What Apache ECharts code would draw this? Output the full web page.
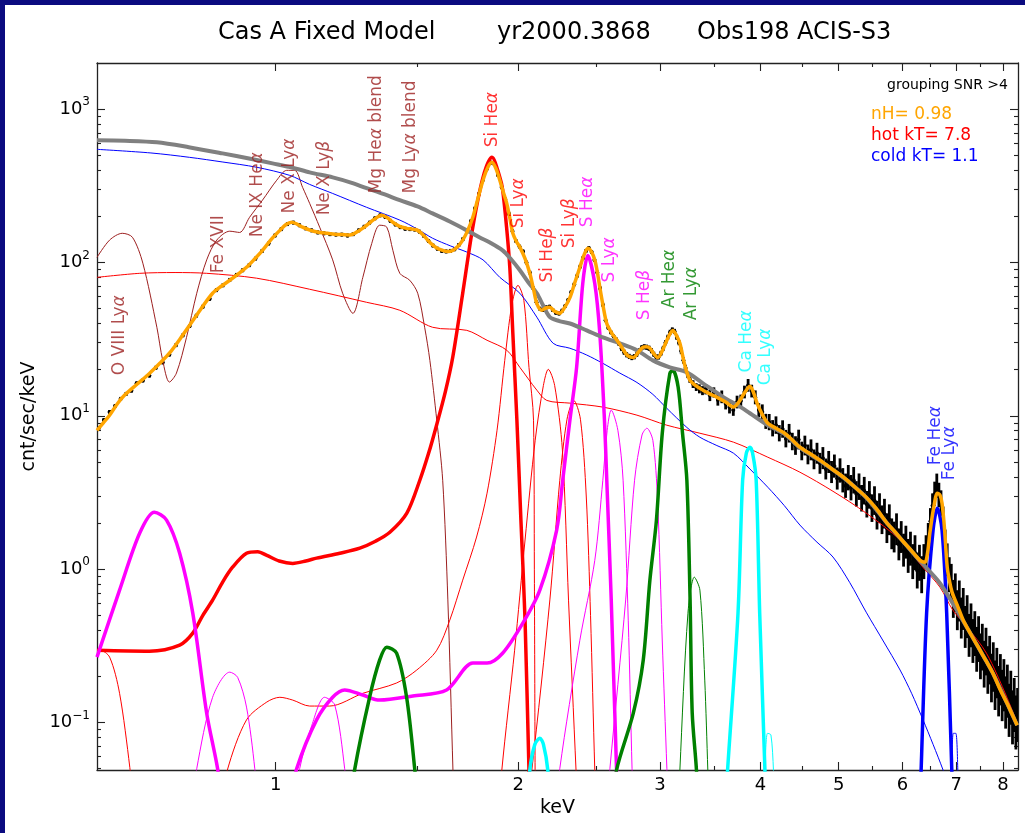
<!DOCTYPE html>
<html>
<head>
<meta charset="utf-8">
<title>Cas A Fixed Model</title>
<script src="https://cdn.jsdelivr.net/npm/echarts@6/dist/echarts.min.js"></script>
<style>
html, body { margin: 0; padding: 0; background: #fff; }
#chart { width: 1025px; height: 833px; }
</style>
</head>
<body>
<div id="chart"></div>
<script>
var FONT = 'DejaVu Sans';

// axis ranges and ticks (keV, cnt/sec/keV)
var xMin = 0.6, xMax = 8.35, yMin = 0.049, yMax = 2000;
var xTicks = [1, 2, 3, 4, 5, 6, 7, 8];
var xMinorTicks = [1.5, 2.5, 3.5, 4.5, 5.5, 6.5, 7.5];
var yTicks = [0.1, 1, 10, 100, 1000];
var yMinorTicks = [0.05, 0.06, 0.07, 0.08, 0.09, 0.2, 0.3, 0.4, 0.5, 0.6, 0.7, 0.8, 0.9,
    2, 3, 4, 5, 6, 7, 8, 9, 20, 30, 40, 50, 60, 70, 80, 90,
    200, 300, 400, 500, 600, 700, 800, 900];

// observed spectrum [keV, cnt/sec/keV, fractional error]
var obsLow = [
    [0.603, 8.3, 0.03], [0.612, 9.4, 0.03], [0.622, 10.6, 0.03], [0.632, 11.6, 0.03], [0.642, 12.9, 0.03],
    [0.652, 13.9, 0.03], [0.662, 14.6, 0.03], [0.672, 16.3, 0.03], [0.684, 17.0, 0.03], [0.697, 18.3, 0.03],
    [0.71, 20.6, 0.03], [0.724, 22.3, 0.03], [0.738, 25.1, 0.03], [0.752, 28.9, 0.03], [0.767, 33.5, 0.03],
    [0.782, 38.5, 0.03], [0.797, 45, 0.03], [0.812, 51.5, 0.03], [0.828, 58, 0.03], [0.844, 66, 0.03],
    [0.86, 71, 0.03], [0.877, 77, 0.03], [0.894, 83, 0.03], [0.91, 89, 0.03], [0.927, 96, 0.03],
    [0.944, 106, 0.03], [0.962, 119, 0.03], [0.98, 133, 0.03], [0.998, 150, 0.03], [1.016, 165, 0.03],
    [1.034, 178, 0.03], [1.052, 182, 0.03], [1.07, 175, 0.03], [1.089, 167, 0.03], [1.108, 162, 0.03],
    [1.128, 157, 0.03], [1.148, 155, 0.03], [1.168, 153, 0.03], [1.188, 152, 0.03], [1.208, 152, 0.03],
    [1.228, 150, 0.03], [1.248, 153, 0.03], [1.268, 162, 0.03], [1.288, 171, 0.03], [1.308, 182, 0.03],
    [1.328, 194, 0.03], [1.348, 203, 0.03], [1.368, 198, 0.03], [1.388, 187, 0.03], [1.408, 177, 0.03],
    [1.428, 170, 0.03], [1.448, 166, 0.03], [1.468, 165, 0.03], [1.488, 164, 0.03], [1.508, 159, 0.03],
    [1.528, 149, 0.03], [1.548, 138, 0.03], [1.568, 129, 0.03], [1.588, 123, 0.03], [1.608, 119, 0.03],
    [1.628, 118, 0.03], [1.648, 119, 0.03], [1.668, 122, 0.03], [1.688, 130, 0.03], [1.708, 142, 0.03],
    [1.728, 160, 0.03], [1.748, 186, 0.03], [1.768, 225, 0.03], [1.788, 280, 0.03], [1.808, 345, 0.03],
    [1.828, 405, 0.03], [1.848, 448, 0.03], [1.868, 440, 0.03], [1.888, 372, 0.03], [1.908, 310, 0.03],
    [1.928, 258, 0.03], [1.948, 208, 0.03], [1.968, 160, 0.03], [1.988, 138, 0.03], [2.008, 127, 0.03],
    [2.028, 118, 0.03], [2.048, 100, 0.03], [2.068, 86, 0.03], [2.088, 68, 0.03], [2.108, 55, 0.03],
    [2.128, 50, 0.03], [2.148, 49, 0.03], [2.168, 51, 0.03], [2.188, 51.5, 0.03], [2.208, 49, 0.03],
    [2.228, 47, 0.03], [2.248, 46.5, 0.03], [2.268, 48.5, 0.03], [2.288, 52, 0.03], [2.308, 57, 0.03],
    [2.328, 64, 0.03], [2.348, 72, 0.03], [2.368, 82, 0.03], [2.388, 94, 0.03], [2.408, 107, 0.03],
    [2.428, 119, 0.03], [2.448, 124, 0.03], [2.468, 117, 0.03], [2.488, 104, 0.03], [2.508, 86, 0.03],
    [2.528, 68, 0.03], [2.548, 53, 0.03], [2.568, 42, 0.03], [2.588, 37.5, 0.03], [2.608, 35, 0.03],
    [2.628, 33, 0.03], [2.648, 31.5, 0.03], [2.668, 29.5, 0.03], [2.688, 27.5, 0.04], [2.708, 26, 0.04],
    [2.728, 25, 0.04], [2.748, 24.4, 0.04], [2.768, 24, 0.04], [2.788, 24.3, 0.04], [2.808, 25.2, 0.04],
    [2.828, 26.5, 0.04], [2.848, 27.8, 0.04], [2.868, 28.2, 0.04], [2.888, 28, 0.04], [2.908, 27.6, 0.04],
    [2.928, 26.6, 0.04], [2.948, 25.2, 0.04], [2.968, 24.2, 0.04], [2.988, 24.2, 0.04], [3.008, 25.5, 0.04],
    [3.028, 27.5, 0.04], [3.048, 30, 0.04], [3.068, 32.5, 0.04], [3.088, 35, 0.04], [3.108, 36.3, 0.04],
    [3.128, 35.5, 0.04], [3.148, 32.5, 0.04], [3.168, 30, 0.04], [3.188, 26.5, 0.05], [3.208, 23, 0.05],
    [3.228, 20.5, 0.05], [3.248, 18.5, 0.05], [3.268, 17.2, 0.05], [3.298, 16.1, 0.06], [3.328, 15.4, 0.06],
    [3.358, 15, 0.07], [3.388, 14.6, 0.07]
];
var obsHigh = [
    [3.42, 14.9, 0.08], [3.46, 13.6, 0.09], [3.50, 14.2, 0.08], [3.54, 12.7, 0.09], [3.58, 13.3, 0.1],
    [3.62, 12.0, 0.09], [3.66, 11.4, 0.1], [3.70, 10.9, 0.09], [3.74, 12.3, 0.1], [3.78, 12.5, 0.1],
    [3.82, 14.3, 0.1], [3.86, 15.8, 0.1], [3.90, 14.5, 0.1], [3.94, 13.2, 0.11], [3.98, 10.9, 0.11],
    [4.02, 10.6, 0.12], [4.06, 9.2, 0.12], [4.10, 9.1, 0.13], [4.14, 8.3, 0.13], [4.18, 8.7, 0.14],
    [4.22, 7.7, 0.13], [4.26, 8.2, 0.14], [4.30, 7.1, 0.14], [4.34, 7.7, 0.15], [4.38, 6.8, 0.14],
    [4.42, 6.4, 0.15], [4.46, 7.0, 0.16], [4.50, 5.9, 0.15], [4.54, 6.4, 0.16], [4.58, 5.6, 0.16],
    [4.62, 6.0, 0.17], [4.66, 5.2, 0.16], [4.70, 5.7, 0.17], [4.74, 4.9, 0.17], [4.78, 5.3, 0.18],
    [4.82, 4.5, 0.17], [4.86, 5.0, 0.18], [4.90, 4.3, 0.18], [4.94, 4.7, 0.19], [4.98, 3.9, 0.18],
    [5.02, 4.4, 0.2], [5.06, 3.8, 0.2], [5.10, 3.5, 0.2], [5.14, 3.95, 0.21], [5.18, 3.4, 0.21],
    [5.22, 3.8, 0.22], [5.26, 3.1, 0.21], [5.30, 3.45, 0.22], [5.34, 2.9, 0.22], [5.38, 3.25, 0.23],
    [5.42, 2.65, 0.22], [5.46, 3.05, 0.23], [5.50, 2.5, 0.23], [5.54, 2.8, 0.24], [5.58, 2.25, 0.24],
    [5.62, 2.5, 0.25], [5.66, 2.1, 0.24], [5.70, 2.3, 0.25], [5.74, 1.85, 0.25], [5.78, 2.1, 0.26],
    [5.82, 1.7, 0.26], [5.86, 1.62, 0.26], [5.90, 1.82, 0.27], [5.94, 1.45, 0.27], [5.98, 1.62, 0.27],
    [6.02, 1.33, 0.28], [6.06, 1.5, 0.28], [6.10, 1.22, 0.29], [6.14, 1.36, 0.29], [6.18, 1.12, 0.3],
    [6.22, 1.28, 0.3], [6.26, 0.98, 0.31], [6.30, 1.1, 0.31], [6.34, 0.92, 0.32], [6.38, 1.12, 0.3],
    [6.42, 1.3, 0.28], [6.46, 1.6, 0.25], [6.50, 2.05, 0.22], [6.54, 2.6, 0.2], [6.58, 3.1, 0.2],
    [6.62, 3.5, 0.2], [6.66, 3.05, 0.2], [6.70, 2.7, 0.21], [6.74, 2.1, 0.22], [6.78, 1.45, 0.25],
    [6.82, 1.15, 0.28], [6.86, 0.92, 0.3], [6.90, 0.82, 0.32], [6.94, 0.64, 0.33], [6.98, 0.7, 0.34],
    [7.02, 0.54, 0.35], [7.06, 0.62, 0.36], [7.10, 0.48, 0.36], [7.14, 0.55, 0.37], [7.18, 0.42, 0.37],
    [7.22, 0.49, 0.38], [7.26, 0.37, 0.38], [7.30, 0.43, 0.39], [7.34, 0.34, 0.39], [7.38, 0.38, 0.4],
    [7.42, 0.3, 0.4], [7.46, 0.35, 0.41], [7.50, 0.27, 0.41], [7.54, 0.31, 0.42], [7.58, 0.24, 0.42],
    [7.62, 0.29, 0.43], [7.66, 0.22, 0.43], [7.70, 0.255, 0.44], [7.74, 0.195, 0.44], [7.78, 0.23, 0.45],
    [7.82, 0.175, 0.45], [7.86, 0.21, 0.46], [7.90, 0.16, 0.46], [7.94, 0.19, 0.47], [7.98, 0.15, 0.47],
    [8.02, 0.175, 0.48], [8.06, 0.135, 0.48], [8.10, 0.16, 0.49], [8.14, 0.12, 0.49], [8.18, 0.145, 0.5],
    [8.22, 0.108, 0.5], [8.26, 0.13, 0.5], [8.30, 0.1, 0.5], [8.34, 0.112, 0.5]
];

// total fitted model (orange)
var totalModel = [
    [0.600, 8.05], [0.611, 9.0], [0.622, 10.1], [0.636, 12.0], [0.649, 13.6], [0.672, 16.0], [0.697, 18.9],
    [0.718, 22.0], [0.738, 25.6], [0.760, 31.5], [0.782, 39], [0.808, 50], [0.835, 63], [0.856, 70],
    [0.877, 76.6], [0.898, 84], [0.920, 93], [0.941, 105], [0.963, 120], [0.988, 142], [1.012, 162],
    [1.030, 177], [1.047, 183], [1.063, 178], [1.080, 170], [1.105, 162], [1.134, 157], [1.160, 155],
    [1.184, 153], [1.210, 152], [1.236, 151], [1.266, 160], [1.297, 175], [1.325, 191], [1.354, 203],
    [1.376, 196], [1.398, 183], [1.425, 172], [1.454, 167], [1.478, 165], [1.501, 162], [1.527, 150],
    [1.554, 135], [1.583, 125], [1.612, 120], [1.636, 118], [1.659, 120], [1.683, 127], [1.707, 140],
    [1.732, 162], [1.757, 197], [1.783, 262], [1.809, 344], [1.833, 415], [1.856, 450], [1.877, 410],
    [1.898, 344], [1.916, 290], [1.936, 243], [1.953, 195], [1.970, 155], [1.99, 137], [2.010, 126],
    [2.04, 106], [2.068, 85], [2.09, 67], [2.110, 54], [2.140, 48.8], [2.165, 50.5], [2.190, 51],
    [2.22, 48], [2.253, 46.6], [2.285, 51], [2.319, 59], [2.352, 74], [2.386, 93], [2.415, 112],
    [2.441, 124], [2.465, 118], [2.490, 104], [2.508, 87], [2.526, 69], [2.55, 52], [2.577, 40],
    [2.615, 34.5], [2.655, 31], [2.695, 27.5], [2.733, 24.8], [2.78, 24], [2.82, 26], [2.858, 28],
    [2.885, 28.2], [2.915, 27.6], [2.95, 25.3], [2.982, 24], [3.02, 26.5], [3.059, 31], [3.09, 34.5],
    [3.113, 36], [3.14, 34], [3.176, 29.7], [3.22, 21.5], [3.268, 17.1], [3.33, 15.6], [3.392, 14.7],
    [3.46, 13.9], [3.532, 13.2], [3.62, 12.3], [3.703, 11.4], [3.74, 11.9], [3.77, 12.6], [3.83, 14.4],
    [3.88, 15.6], [3.92, 14.2], [3.96, 12.1], [4.02, 10.2], [4.084, 8.95], [4.18, 8.3], [4.285, 7.7],
    [4.38, 6.95], [4.476, 6.24], [4.6, 5.7], [4.739, 5.14], [4.9, 4.52], [5.07, 3.98], [5.24, 3.42],
    [5.41, 2.95], [5.57, 2.48], [5.74, 2.0], [5.87, 1.76], [5.99, 1.55], [6.15, 1.33], [6.31, 1.14],
    [6.40, 1.11], [6.45, 1.3], [6.49, 1.72], [6.56, 2.5], [6.63, 3.13], [6.68, 3.05], [6.72, 2.69],
    [6.77, 1.8], [6.82, 1.03], [6.87, 0.82], [6.92, 0.70], [7.03, 0.57], [7.14, 0.465], [7.3, 0.375],
    [7.49, 0.296], [7.63, 0.25], [7.77, 0.21], [7.93, 0.165], [8.09, 0.134], [8.2, 0.115], [8.33, 0.096]
];

// model continuum without lines (grey)
var continuumModel = [
    [0.600, 626], [0.65, 622], [0.712, 608], [0.78, 565], [0.859, 515], [0.93, 475], [0.991, 443],
    [1.05, 415], [1.102, 387], [1.177, 359], [1.24, 332], [1.297, 305], [1.36, 280], [1.426, 255],
    [1.50, 232], [1.566, 209], [1.645, 185], [1.727, 162], [1.79, 146], [1.845, 135], [1.913, 120],
    [1.96, 105], [2.010, 89], [2.06, 74], [2.110, 63], [2.15, 52], [2.19, 44], [2.25, 41.5], [2.319, 40],
    [2.433, 36.1], [2.548, 32.5], [2.675, 29.7], [2.809, 26.8], [2.94, 23], [3.086, 20.7], [3.24, 19.2],
    [3.392, 16.3], [3.6, 13.2], [3.75, 11.7], [3.88, 10.4], [4.084, 8.69], [4.285, 7.6], [4.476, 6.2],
    [4.739, 5.1], [5.07, 3.95], [5.41, 2.93], [5.74, 2.0], [5.99, 1.55], [6.31, 1.13], [6.68, 0.81],
    [7.07, 0.5], [7.49, 0.296], [7.77, 0.21], [8.09, 0.134], [8.33, 0.096]
];

// cold (kT 1.1) component
var coldModel = [
    [0.600, 547], [0.70, 518], [0.782, 485], [0.86, 452], [0.947, 418], [1.041, 370], [1.102, 323],
    [1.177, 282], [1.297, 229], [1.426, 189], [1.50, 165], [1.566, 144], [1.65, 128], [1.727, 117],
    [1.809, 104], [1.898, 80], [2.010, 63], [2.110, 44], [2.211, 29.7], [2.319, 27.6], [2.43, 25],
    [2.548, 22], [2.675, 19], [2.809, 16.5], [2.94, 13.8], [3.059, 11.2], [3.24, 8.4], [3.363, 7.25],
    [3.53, 6.4], [3.703, 5.7], [3.88, 4.5], [4.084, 3.42], [4.28, 2.6], [4.476, 1.94], [4.7, 1.5],
    [4.92, 1.2], [5.16, 0.82], [5.41, 0.524], [5.68, 0.34], [5.96, 0.22], [6.16, 0.155], [6.36, 0.105],
    [6.55, 0.072], [6.74, 0.049], [6.97, 0.03]
];

// hot (kT 7.8) continuum
var hotModel = [
    [0.600, 80], [0.678, 85], [0.75, 86], [0.821, 85], [0.947, 79], [1.102, 66.9], [1.297, 55],
    [1.426, 48.8], [1.566, 37.8], [1.727, 36.1], [1.83, 31.1], [1.936, 26.8], [2.010, 20.7], [2.110, 14.7],
    [2.171, 12.6], [2.319, 12.1], [2.548, 11.4], [2.809, 10.1], [3.059, 8.69], [3.363, 7.7], [3.703, 6.73],
    [4.084, 5.37], [4.476, 4.29], [4.92, 3.22], [5.41, 2.32], [5.96, 1.55], [6.36, 1.03], [6.68, 0.763],
    [6.93, 0.541], [7.22, 0.419], [7.63, 0.283], [8.09, 0.146], [8.33, 0.099]
];

// O / Fe L / Ne / Mg blend
var softLines = [
    [0.600, 108], [0.622, 140], [0.645, 155], [0.664, 146], [0.684, 99], [0.712, 37.8], [0.724, 23],
    [0.738, 16.6], [0.753, 19], [0.775, 32.5], [0.798, 63], [0.821, 104], [0.845, 140], [0.877, 160],
    [0.902, 157], [0.928, 197], [0.963, 255], [1.003, 344], [1.032, 399], [1.056, 399], [1.080, 309],
    [1.102, 243], [1.134, 170], [1.177, 104], [1.211, 63], [1.247, 46.6], [1.283, 80], [1.316, 133],
    [1.346, 175], [1.374, 170], [1.398, 120], [1.426, 85], [1.467, 76.6], [1.501, 63], [1.531, 37.8],
    [1.554, 23], [1.585, 9.36], [1.612, 3.8], [1.636, 0.63], [1.66, 0.049], [1.665, 0.03]
];

// silicon
var siHea = [
    [0.600, 0.296], [0.697, 0.292], [0.760, 0.320], [0.789, 0.383], [0.812, 0.5], [0.835, 0.628],
    [0.86, 0.83], [0.884, 1.03], [0.920, 1.27], [0.95, 1.3], [0.975, 1.23], [1.01, 1.13], [1.050, 1.09],
    [1.09, 1.13], [1.124, 1.18], [1.201, 1.27], [1.272, 1.37], [1.33, 1.52], [1.386, 1.74], [1.455, 2.32],
    [1.51, 3.8], [1.55, 5.8], [1.584, 8.69], [1.625, 14.5], [1.659, 24.1], [1.707, 63], [1.757, 170],
    [1.809, 359], [1.856, 485], [1.898, 360], [1.913, 300], [1.935, 170], [1.953, 93], [1.970, 34.5],
    [1.993, 9.36], [2.016, 2.09], [2.04, 0.465], [2.063, 0.049], [2.07, 0.03]
];
var siHeaWing = [[0.600, 0.296], [0.605, 0.296], [0.622, 0.267], [0.64, 0.155], [0.659, 0.051], [0.665, 0.03]];
var siLya = [
    [0.86, 0.03], [0.871, 0.049], [0.920, 0.104], [0.975, 0.136], [1.012, 0.146], [1.050, 0.140],
    [1.102, 0.128], [1.167, 0.128], [1.283, 0.155], [1.413, 0.181], [1.497, 0.220], [1.585, 0.296],
    [1.645, 0.465], [1.707, 0.848], [1.776, 1.62], [1.830, 3.13], [1.883, 8.05], [1.925, 23],
    [1.964, 52.6], [1.999, 71], [2.033, 56.7], [2.063, 20.7], [2.09, 9.36], [2.095, 1.0], [2.10, 0.03]
];
var siHeb = [
    [1.9, 0.03], [1.909, 0.049], [1.98, 0.296], [2.04, 1.55], [2.10, 6.93], [2.15, 15.8], [2.18, 20.1],
    [2.22, 15.8], [2.27, 5.97], [2.31, 0.628], [2.36, 0.049], [2.37, 0.03]
];
var siLyb = [
    [2.05, 0.03], [2.08, 0.049], [2.19, 0.63], [2.253, 3.8], [2.30, 9.5], [2.345, 12.6], [2.39, 9.5],
    [2.43, 3.0], [2.46, 0.5], [2.49, 0.049], [2.50, 0.03]
];

// sulphur
var sHeaLow = [
    [0.600, 0.267], [0.640, 0.730], [0.678, 1.72], [0.707, 2.35], [0.732, 2.09], [0.760, 1.27],
    [0.789, 0.517], [0.821, 0.115], [0.847, 0.05], [0.852, 0.036]
];
var sHea = [
    [1.053, 0.036], [1.062, 0.05], [1.124, 0.104], [1.177, 0.146], [1.218, 0.163], [1.283, 0.151],
    [1.346, 0.140], [1.480, 0.149], [1.630, 0.163], [1.757, 0.244], [1.830, 0.244], [1.913, 0.283],
    [2.027, 0.445], [2.128, 0.730], [2.233, 1.80], [2.272, 3.80], [2.319, 9.36], [2.364, 20.7],
    [2.406, 73], [2.441, 111], [2.490, 73], [2.526, 34.5], [2.56, 9.36], [2.577, 3.8], [2.61, 0.63],
    [2.65, 0.049], [2.66, 0.03]
];
var sLowA = [[0.79, 0.03], [0.798, 0.05], [0.835, 0.146], [0.877, 0.213], [0.897, 0.197], [0.920, 0.126], [0.942, 0.05], [0.947, 0.03]];
var sLowB = [[1.06, 0.03], [1.071, 0.05], [1.109, 0.096], [1.15, 0.146], [1.184, 0.13], [1.218, 0.05], [1.225, 0.03]];
var sLya = [
    [2.24, 0.03], [2.253, 0.05], [2.386, 0.344], [2.49, 1.14], [2.548, 3.8], [2.58, 8.05], [2.61, 10.9],
    [2.66, 8.05], [2.70, 3.8], [2.74, 0.465], [2.77, 0.05], [2.78, 0.03]
];
var sHeb = [
    [2.58, 0.03], [2.60, 0.05], [2.72, 0.63], [2.79, 3.8], [2.85, 7.5], [2.89, 8.3], [2.94, 6.9],
    [2.98, 2.8], [3.02, 0.34], [3.06, 0.05], [3.07, 0.03]
];

// argon
var arHeaLow = [[1.24, 0.03], [1.254, 0.05], [1.308, 0.146], [1.346, 0.255], [1.374, 0.310], [1.413, 0.283], [1.454, 0.146], [1.488, 0.05], [1.50, 0.03]];
var arHea = [
    [2.63, 0.03], [2.65, 0.049], [2.78, 0.115], [2.86, 0.255], [2.915, 0.848], [2.97, 2.09], [3.02, 7.7],
    [3.086, 18.9], [3.113, 19.8], [3.16, 15.4], [3.20, 7.7], [3.24, 3.8], [3.27, 0.628], [3.29, 0.115],
    [3.33, 0.049], [3.34, 0.03]
];
var arLya = [[3.17, 0.03], [3.176, 0.049], [3.25, 0.516], [3.31, 0.887], [3.363, 0.73], [3.41, 0.189], [3.44, 0.049], [3.45, 0.03]];

// calcium
var caHeaLow = [[2.06, 0.03], [2.068, 0.049], [2.098, 0.072], [2.128, 0.079], [2.15, 0.072], [2.177, 0.049], [2.185, 0.03]];
var caHea = [
    [3.62, 0.03], [3.64, 0.049], [3.75, 0.516], [3.80, 3.8], [3.84, 5.70], [3.88, 6.24], [3.91, 5.70],
    [3.95, 3.8], [3.99, 0.516], [4.05, 0.049], [4.06, 0.03]
];
var caLya = [[4.04, 0.03], [4.05, 0.049], [4.08, 0.085], [4.12, 0.083], [4.15, 0.049], [4.16, 0.03]];

// iron K
var feHea = [[6.31, 0.03], [6.33, 0.049], [6.43, 0.516], [6.55, 1.80], [6.63, 2.50], [6.72, 1.80], [6.81, 0.516], [6.91, 0.049], [6.93, 0.03]];
var feLya = [[6.90, 0.03], [6.91, 0.049], [6.94, 0.085], [6.99, 0.085], [7.03, 0.049], [7.04, 0.03]];

// line identifications [text, keV, cnt/sec/keV at the foot of the label]
var softLabels = [
    ['O VIII Ly{g|α}', 0.640, 18.4], ['Fe XVII', 0.850, 85], ['Ne IX He{g|α}', 0.950, 146],
    ['Ne X Ly{g|α}', 1.041, 209], ['Ne X Ly{g|β}', 1.150, 203],
    ['Mg He{g|α} blend', 1.335, 282], ['Mg Ly{g|α} blend', 1.472, 282]
];
var siLabels = [['Si He{g|α}', 1.861, 564], ['Si Ly{g|α}', 2.0, 167], ['Si He{g|β}', 2.177, 74], ['Si Ly{g|β}', 2.319, 124]];
var sLabels = [['S He{g|α}', 2.441, 170], ['S Ly{g|α}', 2.599, 74], ['S He{g|β}', 2.873, 42]];
var arLabels = [['Ar He{g|α}', 3.086, 50.3], ['Ar Ly{g|α}', 3.287, 42]];
var caLabels = [['Ca He{g|α}', 3.847, 19.2], ['Ca Ly{g|α}', 4.062, 15.8]];
var feLabels = [['Fe He{g|α}', 6.59, 4.76], ['Fe Ly{g|α}', 6.874, 3.8]];

var AXIS_COLOR = '#222';
var BROWN = '#9C1F1F';

function curve(data, color, width) {
    return {
        type: 'line',
        data: data,
        showSymbol: false,
        symbol: 'none',
        smooth: 0.3,
        clip: true,
        silent: true,
        lineStyle: { color: color, width: width }
    };
}

function labels(list, color) {
    return {
        type: 'scatter',
        symbolSize: 1,
        itemStyle: { color: 'transparent' },
        silent: true,
        z: 6,
        data: list.map(function (d) {
            return { name: d[0], value: [d[1], d[2]] };
        }),
        label: {
            show: true,
            position: 'inside',
            rotate: 90,
            align: 'left',
            verticalAlign: 'middle',
            color: color,
            fontFamily: FONT,
            fontSize: 17,
            formatter: function (p) { return p.name; },
            rich: { g: { color: color, fontFamily: FONT, fontSize: 17, fontStyle: 'italic' } }
        }
    };
}

function xAxisDef(pos, major) {
    return {
        type: 'log',
        logBase: 10,
        min: xMin,
        max: xMax,
        position: pos,
        splitLine: { show: false },
        axisLine: { show: major, onZero: false, lineStyle: { color: AXIS_COLOR, width: 1.3 } },
        axisTick: {
            show: true, inside: true, length: major ? 8 : 4,
            customValues: major ? xTicks : xMinorTicks,
            lineStyle: { color: AXIS_COLOR, width: 1.1 }
        },
        axisLabel: { show: false }
    };
}

function yAxisDef(pos, major) {
    return {
        type: 'log',
        logBase: 10,
        min: yMin,
        max: yMax,
        position: pos,
        splitLine: { show: false },
        axisLine: { show: major, onZero: false, lineStyle: { color: AXIS_COLOR, width: 1.3 } },
        axisTick: {
            show: true, inside: true, length: major ? 8 : 4,
            customValues: major ? yTicks : yMinorTicks,
            lineStyle: { color: AXIS_COLOR, width: 1.1 }
        },
        axisLabel: { show: false }
    };
}

var xBottom = xAxisDef('bottom', true);
xBottom.axisLabel = {
    show: true, customValues: xTicks, margin: 6,
    color: '#000', fontFamily: FONT, fontSize: 18,
    formatter: function (v) { return String(Math.round(v)); }
};
xBottom.name = 'keV';
xBottom.nameLocation = 'middle';
xBottom.nameGap = 28;
xBottom.nameTextStyle = { color: '#000', fontFamily: FONT, fontSize: 19 };

var yLeft = yAxisDef('left', true);
yLeft.axisLabel = {
    show: true, customValues: yTicks, margin: 7,
    color: '#000', fontFamily: FONT, fontSize: 18, lineHeight: 26,
    formatter: function (v) {
        var p = Math.round(Math.log10(v));
        return '10{sup|' + (p < 0 ? '\u2212' + (-p) : p) + '}';
    },
    rich: { sup: { fontFamily: FONT, fontSize: 12, lineHeight: 14, verticalAlign: 'top', color: '#000' } }
};
yLeft.name = 'cnt/sec/keV';
yLeft.nameLocation = 'middle';
yLeft.nameGap = 55;
yLeft.nameTextStyle = { color: '#000', fontFamily: FONT, fontSize: 19 };

var chart = echarts.init(document.getElementById('chart'));

chart.setOption({
    animation: false,
    backgroundColor: '#fff',
    grid: { left: 97, right: 7, top: 63, bottom: 63, containLabel: false },
    xAxis: [xBottom, xAxisDef('bottom', false), xAxisDef('top', true), xAxisDef('top', false)],
    yAxis: [yLeft, yAxisDef('left', false), yAxisDef('right', true), yAxisDef('right', false)],
    graphic: [
        { type: 'rect', shape: { x: 0, y: 0, width: 5, height: 833 }, style: { fill: '#0b0b80' } },
        { type: 'rect', shape: { x: 0, y: 0, width: 1025, height: 5 }, style: { fill: '#0b0b80' } },
        { type: 'text', x: 218, y: 33, style: { text: 'Cas A Fixed Model', fill: '#000', font: '24px "DejaVu Sans"', verticalAlign: 'middle', textVerticalAlign: 'middle' } },
        { type: 'text', x: 497, y: 33, style: { text: 'yr2000.3868', fill: '#000', font: '24px "DejaVu Sans"', verticalAlign: 'middle', textVerticalAlign: 'middle' } },
        { type: 'text', x: 697, y: 33, style: { text: 'Obs198 ACIS-S3', fill: '#000', font: '24px "DejaVu Sans"', verticalAlign: 'middle', textVerticalAlign: 'middle' } },
        { type: 'text', x: 1008, y: 85, style: { text: 'grouping SNR >4', fill: '#000', font: '14px "DejaVu Sans"', align: 'right', textAlign: 'right', verticalAlign: 'middle', textVerticalAlign: 'middle' } },
        { type: 'text', x: 871, y: 115, style: { text: 'nH= 0.98', fill: '#FFA500', font: '17px "DejaVu Sans"', verticalAlign: 'middle', textVerticalAlign: 'middle' } },
        { type: 'text', x: 871, y: 136, style: { text: 'hot kT= 7.8', fill: '#FF0000', font: '17px "DejaVu Sans"', verticalAlign: 'middle', textVerticalAlign: 'middle' } },
        { type: 'text', x: 871, y: 157, style: { text: 'cold kT= 1.1', fill: '#0000FF', font: '17px "DejaVu Sans"', verticalAlign: 'middle', textVerticalAlign: 'middle' } }
    ],
    series: [
        {
            type: 'custom',
            data: obsLow.concat(obsHigh),
            clip: true,
            silent: true,
            renderItem: function (params, api) {
                var e = api.value(0), v = api.value(1), f = api.value(2);
                var mid = api.coord([e, v]);
                var hi = api.coord([e, v * (1 + f)]);
                var lo = api.coord([e, v / (1 + f)]);
                return {
                    type: 'group',
                    children: [
                        { type: 'line', shape: { x1: mid[0], y1: hi[1], x2: mid[0], y2: lo[1] }, style: { stroke: '#000', lineWidth: 2.8 } },
                        { type: 'line', shape: { x1: mid[0] - 1.8, y1: mid[1], x2: mid[0] + 1.8, y2: mid[1] }, style: { stroke: '#000', lineWidth: 1.4 } },
                        { type: 'circle', shape: { cx: mid[0], cy: mid[1], r: 1.9 }, style: { fill: '#000' } }
                    ]
                };
            }
        },
        curve(softLines, BROWN, 1),
        curve(hotModel, '#FF0000', 1),
        curve(siHeaWing, '#FF0000', 1),
        curve(siLya, '#FF0000', 1),
        curve(siHeb, '#FF0000', 1),
        curve(siLyb, '#FF0000', 1),
        curve(sLowA, '#FF00FF', 1),
        curve(sLowB, '#FF00FF', 1),
        curve(sLya, '#FF00FF', 1),
        curve(sHeb, '#FF00FF', 1),
        curve(arLya, '#008000', 1),
        curve(caLya, '#00FFFF', 1),
        curve(feLya, '#0000FF', 1),
        curve(coldModel, '#0000FF', 1),
        curve(siHea, '#FF0000', 3.5),
        curve(sHeaLow, '#FF00FF', 3.5),
        curve(sHea, '#FF00FF', 3.5),
        curve(arHeaLow, '#008000', 3.5),
        curve(arHea, '#008000', 3.5),
        curve(caHeaLow, '#00FFFF', 3.5),
        curve(caHea, '#00FFFF', 3.5),
        curve(feHea, '#0000FF', 3.5),
        curve(continuumModel, '#808080', 4),
        curve(totalModel, '#FFA500', 3.5),
        labels(softLabels, BROWN),
        labels(siLabels, '#FF0000'),
        labels(sLabels, '#FF00FF'),
        labels(arLabels, '#008000'),
        labels(caLabels, '#00FFFF'),
        labels(feLabels, '#0000FF')
    ]
});
</script>
</body>
</html>
